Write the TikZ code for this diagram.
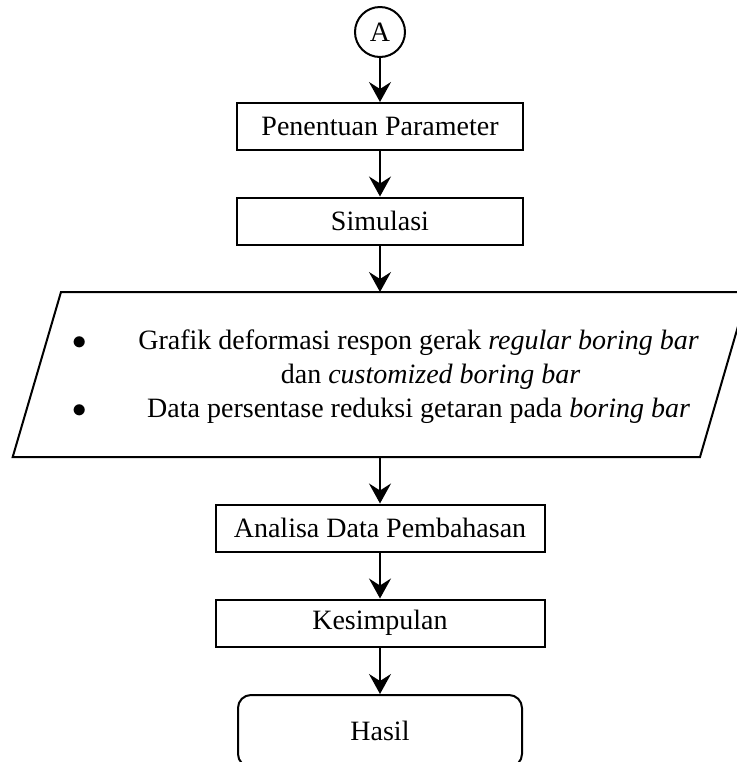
\documentclass[tikz,border=0pt]{standalone}
\usepackage{fontspec}
\setmainfont{Liberation Serif}
\usetikzlibrary{arrows.meta}

\begin{document}
\begin{tikzpicture}[x=0.5pt, y=-0.5pt, line width=1pt,
    every node/.style={font=\fontsize{14}{17}\selectfont},
    proses/.style={draw, minimum width=143pt, minimum height=23.5pt, inner sep=0pt},
    konektor/.style={draw, circle, minimum size=25pt, inner sep=0pt},
    hasil/.style={draw, rounded corners=6.5pt, minimum width=142pt, minimum height=36pt},
    panah/.style={-{Stealth[length=10pt, width=11pt, inset=3.5pt]}}]
    \useasboundingbox (0, 0) rectangle (736, 762);
    \node[konektor] (A) at (380, 32) {A};
    \node[proses] (param) at (380, 126.5) {Penentuan Parameter};
    \node[proses] (simulasi) at (380, 221) {Simulasi};
    % data keluaran (jajaran genjang)
    \coordinate (outatas) at (380, 292);
    \coordinate (outbawah) at (380, 457);
    \draw (61, 292) -- (748, 292) -- (700, 457) -- (12.7, 457) -- cycle;
    \node[anchor=west, inner sep=0pt] (output) at (71, 377) {%
      \begin{tabular}{@{}l@{\hspace{26pt}}c@{}}
        $\bullet$ & Grafik deformasi respon gerak \textit{regular boring bar}\\
                  & \hspace{12pt}dan \textit{customized boring bar}\\
        $\bullet$ & Data persentase reduksi getaran pada \textit{boring bar}
      \end{tabular}};
    \node[proses, minimum width=164.5pt] (analisa) at (380, 528) {Analisa Data Pembahasan};
    \node[proses, minimum width=164.5pt] (kesimpulan) at (380, 623) {Kesimpulan};
    \node[hasil] (hasil) at (380, 731) {Hasil};
    \draw[panah] (A) -- (param);
    \draw[panah] (param) -- (simulasi);
    \draw[panah] (simulasi) -- (outatas);
    \draw[panah] (outbawah) -- (analisa);
    \draw[panah] (analisa) -- (kesimpulan);
    \draw[panah] (kesimpulan) -- (hasil);
\end{tikzpicture}
\end{document}
